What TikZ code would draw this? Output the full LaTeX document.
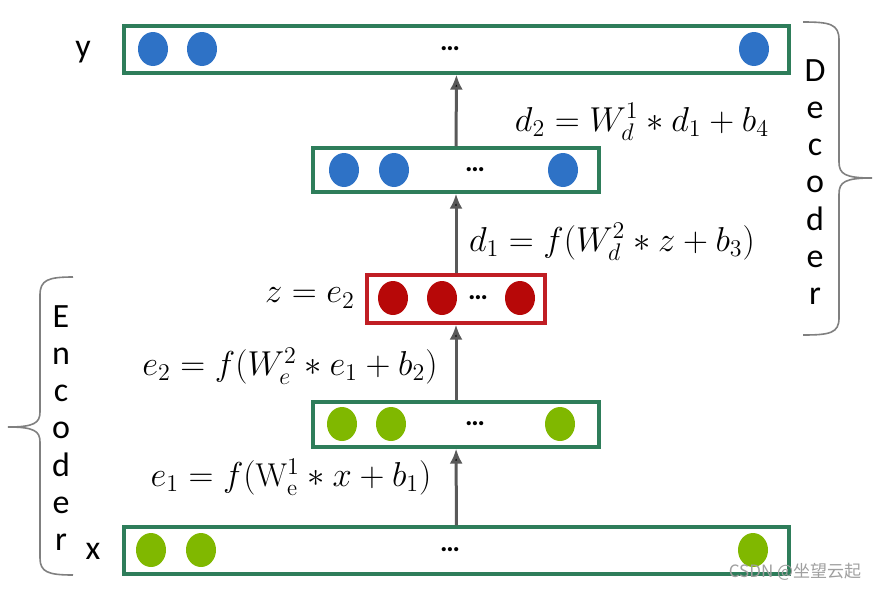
\documentclass[tikz,border=0pt]{standalone}
\usepackage{fontspec}
\setsansfont{Carlito}
\newfontfamily\cjk{Noto Sans CJK SC}
\usepackage{amsmath}
\usetikzlibrary{arrows.meta, shapes.geometric}
\definecolor{layergreen}{RGB}{46,125,90}
\definecolor{layerred}{RGB}{192,30,36}
\definecolor{unitblue}{RGB}{46,114,198}
\definecolor{unitred}{RGB}{183,8,8}
\definecolor{unitgreen}{RGB}{128,184,0}
\definecolor{arrowgray}{RGB}{89,89,89}
\tikzset{>={Latex[length=7.5pt,width=6.5pt]}}
\tikzset{
    layer/.style={draw=layergreen, line width=1.6pt, rectangle, inner sep=0pt},
    codelayer/.style={layer, draw=layerred},
    unit/.style={ellipse, inner sep=0pt, minimum width=15pt, minimum height=17pt},
    dots/.style={font=\sffamily\bfseries\fontsize{14}{14}\selectfont, inner sep=1pt},
    eqn/.style={font=\fontsize{16.5}{18}\selectfont, inner sep=1pt},
    letters/.style={font=\sffamily\fontsize{17}{18.6}\selectfont, align=center, inner sep=0pt},
    bracepath/.style={draw=gray, line width=0.8pt}
}

\begin{document}
\begin{tikzpicture}[x=0.5pt, y=-0.5pt]
    \useasboundingbox (0,0) rectangle (877,590);
    % layers
    \node[layer, minimum width=332.5pt, minimum height=23.5pt] (out) at (456.5,49.5) {};
    \node[layer, minimum width=143pt, minimum height=22pt] (dec) at (456,170) {};
    \node[codelayer, minimum width=89pt, minimum height=24pt] (code) at (456,299) {};
    \node[layer, minimum width=143pt, minimum height=22.5pt] (enc) at (456,424.5) {};
    \node[layer, minimum width=332.5pt, minimum height=23.5pt] (in) at (456.5,550.5) {};
    % units
    \node[unit, fill=unitblue] (out1) at (153,49) {};
    \node[unit, fill=unitblue] (out2) at (202,49) {};
    \node[unit, fill=unitblue] (outn) at (754,49) {};
    \node[dots] (outd) at (450,49) {…};
    \node[unit, fill=unitblue] (dec1) at (344,170) {};
    \node[unit, fill=unitblue] (dec2) at (394,170) {};
    \node[unit, fill=unitblue] (decn) at (563,170) {};
    \node[dots] (decd) at (475,170) {…};
    \node[unit, fill=unitred] (code1) at (393,298) {};
    \node[unit, fill=unitred] (code2) at (442,298) {};
    \node[unit, fill=unitred] (coden) at (520,298) {};
    \node[dots] (coded) at (478,298) {…};
    \node[unit, fill=unitgreen] (enc1) at (342,424) {};
    \node[unit, fill=unitgreen] (enc2) at (391,424) {};
    \node[unit, fill=unitgreen] (encn) at (560,424) {};
    \node[dots] (encd) at (475,424) {…};
    \node[unit, fill=unitgreen] (in1) at (151,550) {};
    \node[unit, fill=unitgreen] (in2) at (201,550) {};
    \node[unit, fill=unitgreen] (inn) at (753,550) {};
    \node[dots] (ind) at (450,550) {…};
    % arrows
    \path[->, draw=arrowgray, line width=1.5pt]
        (in)    edge (enc)
        (enc)   edge (code)
        (code)  edge (dec)
        (dec)   edge (out)
    ;
    % formulas
    \node[eqn] (e1) at (291,477) {$e_1 = f(\mathrm{W}_{\mathrm{e}}^{1} * x + b_1)$};
    \node[eqn] (e2) at (290,366) {$e_2 = f(W_e^2 * e_1 + b_2)$};
    \node[eqn] (z) at (310,298) {$z = e_2$};
    \node[eqn] (d1) at (612,242) {$d_1 = f(W_d^2 * z + b_3)$};
    \node[eqn] (d2) at (642,122) {$d_2 = W_d^1 * d_1 + b_4$};
    \node[font=\sffamily\fontsize{17}{17}\selectfont] (ylab) at (83,52) {y};
    \node[font=\sffamily\fontsize{17}{17}\selectfont] (xlab) at (93,551) {x};
    % braces
    \draw[bracepath] (803,22) .. controls (830,22) and (839,24) .. (839,40)
        -- (839,162) .. controls (839,174) and (845,178) .. (872,178)
        .. controls (845,178) and (839,182) .. (839,194)
        -- (839,318) .. controls (839,333) and (830,335) .. (803,335);
    \draw[bracepath] (73,277) .. controls (48,277) and (40,280) .. (40,295)
        -- (40,412) .. controls (40,423) and (34,427) .. (8,427)
        .. controls (34,427) and (40,431) .. (40,442)
        -- (40,558) .. controls (40,572) and (48,575) .. (73,575);
    \node[letters] (declab) at (815,182) {D\\e\\c\\o\\d\\e\\r};
    \node[letters] (enclab) at (61,428) {E\\n\\c\\o\\d\\e\\r};
    \node[font=\cjk\fontsize{8.5}{9}\selectfont, text=gray!75] (mark) at (795,572) {CSDN @坐望云起};
\end{tikzpicture}
\end{document}
